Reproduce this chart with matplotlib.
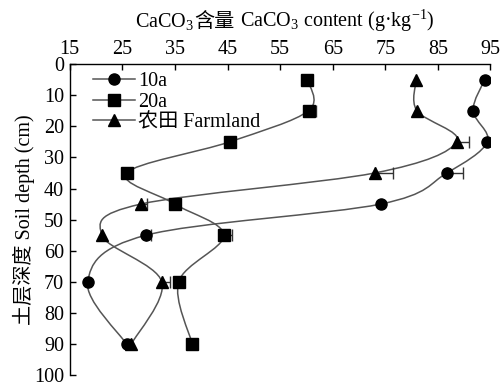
import numpy as np
import matplotlib
matplotlib.use("Agg")
import matplotlib.pyplot as plt
from matplotlib.path import Path
from matplotlib.patches import PathPatch
from matplotlib.lines import Line2D
from matplotlib.offsetbox import TextArea, HPacker, AnchoredOffsetbox

plt.rcParams['font.family'] = ['Liberation Serif', 'Noto Sans CJK SC']
plt.rcParams['mathtext.fontset'] = 'custom'
plt.rcParams['mathtext.rm'] = 'Liberation Serif'
plt.rcParams['mathtext.it'] = 'Liberation Serif:italic'

# ---- data ----
depth = [5, 15, 25, 35, 45, 55, 70, 90]
caco3_10a = [93.9, 91.7, 94.4, 86.7, 74.1, 29.5, 18.4, 25.8]
caco3_20a = [60.2, 60.4, 45.4, 25.8, 35.0, 44.3, 35.7, 38.3]
caco3_farm = [80.9, 81.0, 88.6, 73.0, 28.5, 21.1, 32.5, 26.7]
err_10a = [0, 0, 0, 3.0, 0, 1.0, 0, 0]
err_20a = [0, 1.4, 0, 0, 0, 1.6, 0, 0]
err_farm = [0, 0, 2.3, 3.4, 1.2, 0, 1.5, 0]
labels = ['10a', '20a', '农田 Farmland']
markers = ['o', 's', '^']
x_ticks = list(range(15, 96, 10))
y_ticks = list(range(0, 101, 10))

fs = 14.5
line_col = '#555555'

fig = plt.figure(figsize=(5.02, 3.86), dpi=100)
ax = fig.add_axes([0.139, 0.028, 0.838, 0.806])


def smooth_path(xs, ys):
    pts = np.column_stack([xs, ys]).astype(float)
    n = len(pts)
    verts = [pts[0]]
    codes = [Path.MOVETO]
    for i in range(n - 1):
        p0 = pts[i - 1] if i > 0 else pts[i]
        p1 = pts[i]
        p2 = pts[i + 1]
        p3 = pts[i + 2] if i + 2 < n else pts[i + 1]
        c1 = p1 + (p2 - p0) / 6.0
        c2 = p2 - (p3 - p1) / 6.0
        verts += [c1, c2, p2]
        codes += [Path.CURVE4] * 3
    return Path(verts, codes)


series = [caco3_10a, caco3_20a, caco3_farm]
errs = [err_10a, err_20a, err_farm]
for vals, err, mk in zip(series, errs, markers):
    patch = PathPatch(smooth_path(vals, depth), facecolor='none',
                      edgecolor=line_col, lw=1.1, zorder=2)
    ax.add_patch(patch)
    idx = [i for i, e in enumerate(err) if e > 0]
    if idx:
        ax.errorbar([vals[i] for i in idx], [depth[i] for i in idx],
                    xerr=[[0] * len(idx), [err[i] for i in idx]],
                    fmt='none', ecolor='#333333', elinewidth=1.0,
                    capsize=4, capthick=1.0, zorder=2)
    ms = 8.5 if mk == '^' else 8
    ax.plot(vals, depth, linestyle='none', marker=mk, color='black',
            markersize=ms, zorder=3)

ax.set_xlim(15, 95)
ax.set_ylim(100, 0)
ax.xaxis.tick_top()
ax.set_xticks(x_ticks)
ax.set_yticks(y_ticks)
ax.tick_params(axis='both', direction='in', length=4, width=1,
               labelsize=fs, pad=4)
ax.spines['right'].set_visible(False)
ax.spines['bottom'].set_visible(False)
for s in ['left', 'top']:
    ax.spines[s].set_linewidth(1.0)

ax.set_ylabel('土层深度 Soil depth (cm)', fontsize=fs, labelpad=-1)

# title on top (x label), assembled so CJK and math both render
parts = [TextArea('CaCO$_3$', textprops=dict(fontsize=fs, family='Liberation Serif')),
         TextArea('含量', textprops=dict(fontsize=fs, family='Noto Sans CJK SC')),
         TextArea(' CaCO$_3$ content (g·kg$^{-1}$)',
                  textprops=dict(fontsize=fs, family='Liberation Serif'))]
box = HPacker(children=parts, align='baseline', pad=0, sep=0)
anch = AnchoredOffsetbox(loc='center', child=box, frameon=False,
                         bbox_to_anchor=(0.567, 0.945),
                         bbox_transform=fig.transFigure, pad=0, borderpad=0)
fig.add_artist(anch)

handles = [Line2D([], [], color=line_col, lw=1.1, marker=m,
                  markerfacecolor='black', markeredgecolor='black',
                  markersize=8) for m in markers]
ax.legend(handles, labels, loc='upper left', bbox_to_anchor=(0.055, 0.975),
          frameon=False, fontsize=fs, handlelength=2.1, handletextpad=0.15,
          labelspacing=0.08, borderpad=0, borderaxespad=0)

fig.savefig('out.png', dpi=100)
